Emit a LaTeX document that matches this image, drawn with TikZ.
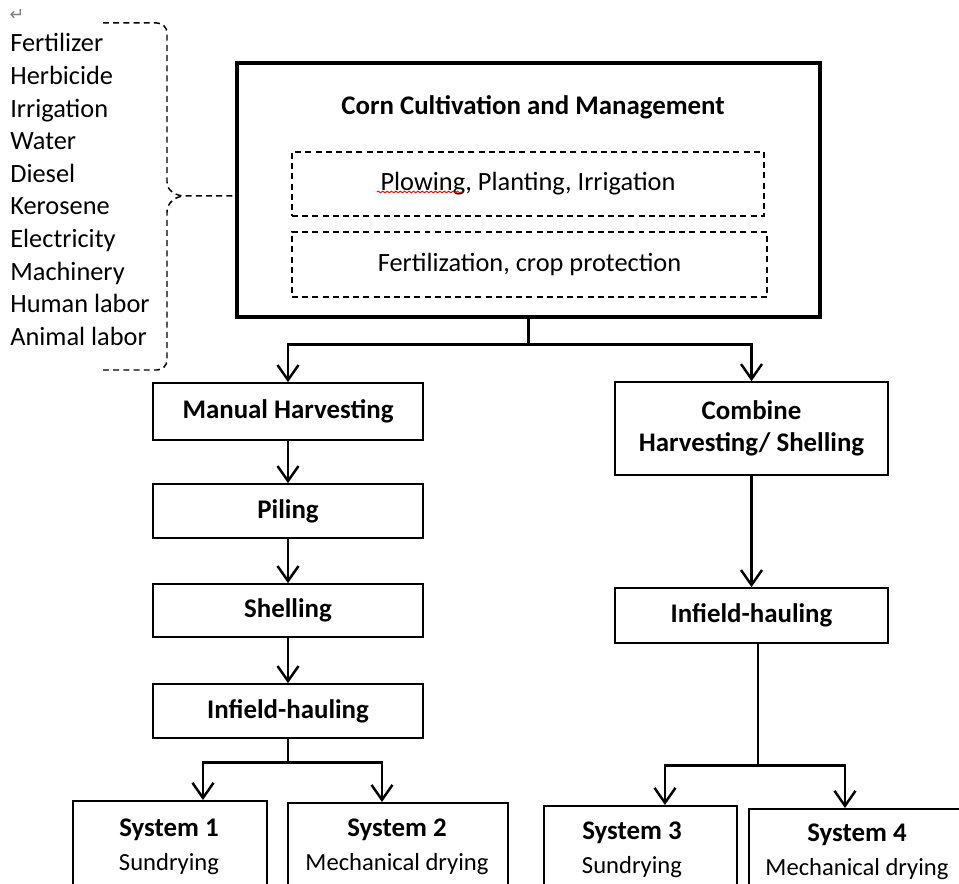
\documentclass[tikz,border=0pt]{standalone}
\usepackage{fontspec}
\setmainfont{Carlito}
\newfontfamily\symfont{DejaVu Sans}
\usetikzlibrary{arrows.meta, decorations.pathmorphing}

\tikzset{
  stagebox/.style = {draw, line width=0.95pt, minimum width=5.4cm, align=center,
                     font=\fontsize{15.3}{18}\selectfont\bfseries},
  sysbox/.style   = {draw, line width=0.95pt, anchor=north west, minimum height=2.4cm},
  systext/.style  = {anchor=north, align=center, inner sep=0pt, font=\fontsize{14}{18.8}\selectfont},
  subbox/.style   = {draw, dashed, dash pattern=on 3.4pt off 2.4pt, line width=0.85pt,
                     font=\fontsize{15}{18}\selectfont},
  bracket/.style  = {dash pattern=on 3.4pt off 2.4pt, line width=0.85pt},
  flow/.style     = {line width=1.6pt, -{Straight Barb[length=3mm, width=4.2mm, line width=1.4pt]}},
  input/.style    = {anchor=base west, inner sep=0pt, font=\fontsize{15}{18}\selectfont}
}

\begin{document}
\begin{tikzpicture}[x=0.02cm, y=-0.02cm]
\useasboundingbox (0,0) rectangle (959,884);
\clip (0,0) rectangle (959,884);

% inputs on the left
\node[font=\symfont\fontsize{10}{10}\selectfont, text=gray, inner sep=0pt] (mark) at (17,15) {↵};
\foreach \t [count=\i] in {Fertilizer, Herbicide, Irrigation, Water, Diesel, Kerosene,
                           Electricity, Machinery, Human labor, Animal labor}
  \node[input] (in\i) at (10, {52+32.6*(\i-1)}) {\t};

% cultivation block
\node[draw, line width=1.8pt, minimum width=11.66cm, minimum height=5.08cm] (main) at (528.5,190) {};
\node[font=\fontsize{15.3}{18}\selectfont\bfseries] (title) at (533,107) {Corn Cultivation and Management};
\node[subbox, minimum width=9.44cm, minimum height=1.28cm] (plow) at (528,184) {Plowing, Planting, Irrigation};
\node[subbox, minimum width=9.5cm, minimum height=1.3cm] (fert) at (529.5,264.5) {Fertilization, crop protection};
\draw[red, line width=0.5pt, decorate, decoration={snake, amplitude=0.5pt, segment length=2.5pt}]
  (377,192) -- (462,192);

% brace
\coordinate (tip) at (185,196);
\draw[bracket]
  (103,23) -- (157,23) to[out=0,in=90] (167,33) -- (167,182) to[out=-90,in=180] (tip)
  -- ([yshift=-0.12cm]main.west);
\draw[bracket]
  (103,370) -- (157,370) to[out=0,in=-90] (167,360) -- (167,212) to[out=90,in=180] (tip);

% manual branch
\node[stagebox, minimum height=1.14cm] (mh) at (288,411.5) {Manual Harvesting};
\node[stagebox, minimum height=1.08cm] (pil) at (288,511) {Piling};
\node[stagebox, minimum height=1.06cm] (shl) at (288,610.5) {Shelling};
\node[stagebox, minimum height=1.08cm] (ihl) at (288,711) {Infield-hauling};

% combine branch
\node[stagebox, minimum width=5.46cm, minimum height=1.86cm] (ch) at (751.5,428.5) {Combine\\Harvesting/ Shelling};
\node[stagebox, minimum width=5.46cm, minimum height=1.1cm] (ihr) at (751.5,615.5) {Infield-hauling};

% systems
\node[sysbox, minimum width=3.88cm] (s1) at (72,800) {};
\node[sysbox, minimum width=4.4cm] (s2) at (287,802) {};
\node[sysbox, minimum width=3.86cm] (s3) at (543,805) {};
\node[sysbox, minimum width=4.6cm] (s4) at (748,808) {};
\node[systext] (s1t) at (169,819) {\textbf{\fontsize{15.3}{18}\selectfont System 1}\\Sundrying};
\node[systext] (s2t) at (397,819) {\textbf{\fontsize{15.3}{18}\selectfont System 2}\\Mechanical drying};
\node[systext] (s3t) at (632,822) {\textbf{\fontsize{15.3}{18}\selectfont System 3}\\Sundrying};
\node[systext] (s4t) at (857,824) {\textbf{\fontsize{15.3}{18}\selectfont System 4}\\Mechanical drying};

% connectors
\draw[flow] (main.south) -- ++(0,26) -| (mh.north);
\draw[flow] (main.south) -- ++(0,26) -| (ch.north);
\draw[flow] (mh) -- (pil);
\draw[flow] (pil) -- (shl);
\draw[flow] (shl) -- (ihl);
\draw[flow] (ch) -- (ihr);
\draw[flow] (ihl.south) -- ++(0,24) -| ([xshift=2.62cm]s1.north west);
\draw[flow] (ihl.south) -- ++(0,24) -| ([xshift=1.9cm]s2.north west);
\draw[flow] ([xshift=0.13cm]ihr.south) -- ++(0,122) -| ([xshift=2.44cm]s3.north west);
\draw[flow] ([xshift=0.13cm]ihr.south) -- ++(0,122) -| ([xshift=1.94cm]s4.north west);
\end{tikzpicture}
\end{document}
